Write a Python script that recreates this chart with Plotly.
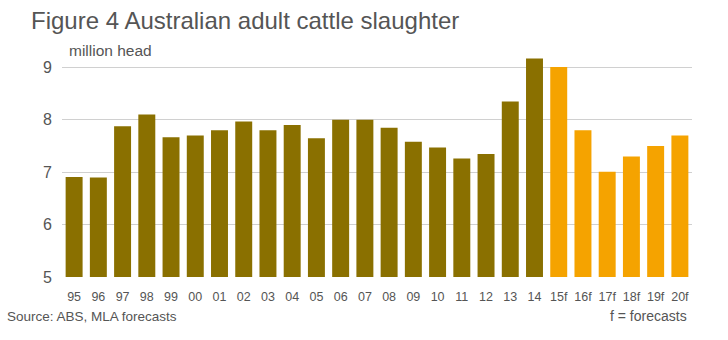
import plotly.graph_objects as go

years = ["95","96","97","98","99","00","01","02","03","04","05","06","07",
         "08","09","10","11","12","13","14","15f","16f","17f","18f","19f","20f"]
values = [6.91,6.90,7.88,8.10,7.67,7.70,7.80,7.97,7.80,7.90,7.65,8.00,8.00,
          7.85,7.58,7.47,7.26,7.35,8.35,9.17,9.01,7.80,7.01,7.30,7.50,7.70]
forecast = [y.endswith("f") for y in years]
colors = ["#F5A300" if f else "#8A7000" for f in forecast]

fig = go.Figure(go.Bar(x=years, y=values, marker=dict(color=colors, line=dict(width=0))))
fig.update_layout(
    width=728, height=340,
    margin=dict(l=62, r=36, t=57, b=63),
    paper_bgcolor="white", plot_bgcolor="white",
    bargap=0.3, showlegend=False,
    font=dict(family="Liberation Sans, Arial, sans-serif", color="#555555"),
)
fig.update_yaxes(range=[5, 9.2], tickvals=[5,6,7,8,9], showgrid=True, gridcolor="#d0d0d0",
                 gridwidth=1, zeroline=False, tickfont=dict(size=16, color="#555555"),
                 ticks="", ticklabelstandoff=9, showline=False)
fig.update_xaxes(type="category", tickfont=dict(size=12.5, color="#555555"), ticks="",
                 showline=False, ticklabelstandoff=10)
fig.add_annotation(text="Figure 4 Australian adult cattle slaughter", xref="paper", yref="paper",
                   x=-0.052, y=1.0, yshift=37, xanchor="left", yanchor="middle",
                   showarrow=False, font=dict(size=24, color="#555555"))
fig.add_annotation(text="million head", xref="paper", yref="paper",
                   x=0.008, y=1.0, yshift=7, xanchor="left", yanchor="middle",
                   showarrow=False, font=dict(size=15.5, color="#555555"))
fig.add_annotation(text="Source: ABS, MLA forecasts", xref="paper", yref="paper",
                   x=-0.09, y=0, yshift=-39, xanchor="left", yanchor="middle",
                   showarrow=False, font=dict(size=13.5, color="#555555"))
fig.add_annotation(text="f = forecasts", xref="paper", yref="paper",
                   x=0.995, y=0, yshift=-39, xanchor="right", yanchor="middle",
                   showarrow=False, font=dict(size=14, color="#555555"))
fig.write_html("out.html")
